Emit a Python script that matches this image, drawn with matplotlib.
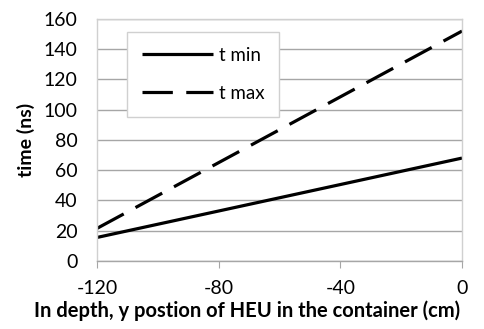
import matplotlib.pyplot as plt

# depth of the HEU source (cm) and arrival time window (ns)
posicao_y = [-120, -80, -40, 0]
t_min = [15.5, 33, 50.5, 68]
t_max = [21.5, 65, 108.5, 152]
yticks = [0, 20, 40, 60, 80, 100, 120, 140, 160]
xticks = [-120, -80, -40, 0]

plt.rcParams['font.family'] = ['Lato', 'DejaVu Sans']
plt.rcParams['axes.unicode_minus'] = False

fig = plt.figure(figsize=(4.85, 3.29), dpi=100)
ax = fig.add_axes([0.2, 0.207, 0.7526, 0.7353])

ax.plot(posicao_y, t_min, color='black', linewidth=2.3, solid_capstyle='butt', label='t min')
ax.plot(posicao_y, t_max, color='black', linewidth=2.3, linestyle=(0, (9.5, 4.2)),
        dash_capstyle='butt', label='t max')

ax.set_xlim(-120, 0)
ax.set_ylim(0, 160)
ax.set_xticks(xticks)
ax.set_yticks(yticks)
ax.yaxis.grid(True, color='#a6a6a6', linewidth=1)
ax.set_axisbelow(True)
for s in ax.spines.values():
    s.set_color('#d0d0d0')
    s.set_linewidth(1)
ax.spines['bottom'].set_color('#a6a6a6')
ax.tick_params(axis='y', length=0, labelsize=14, pad=14)
ax.tick_params(axis='x', length=5, color='#a6a6a6', labelsize=14, pad=9)

ax.set_xlabel('In depth, y postion of HEU in the container (cm)', fontsize=14.5,
              fontweight='bold')
ax.xaxis.set_label_coords(0.411, -0.163)
ax.set_ylabel('time (ns)', fontsize=14, fontweight='bold', labelpad=6)

leg = ax.legend(loc='upper left', bbox_to_anchor=(0.082, 0.946), fontsize=13.5,
                handlelength=3.8, handletextpad=0.3, labelspacing=1.1,
                borderpad=0.8, borderaxespad=0, fancybox=False, framealpha=1)
leg.get_frame().set_edgecolor('#d0d0d0')
leg.get_frame().set_linewidth(1)

plt.savefig('out.png', dpi=100)
